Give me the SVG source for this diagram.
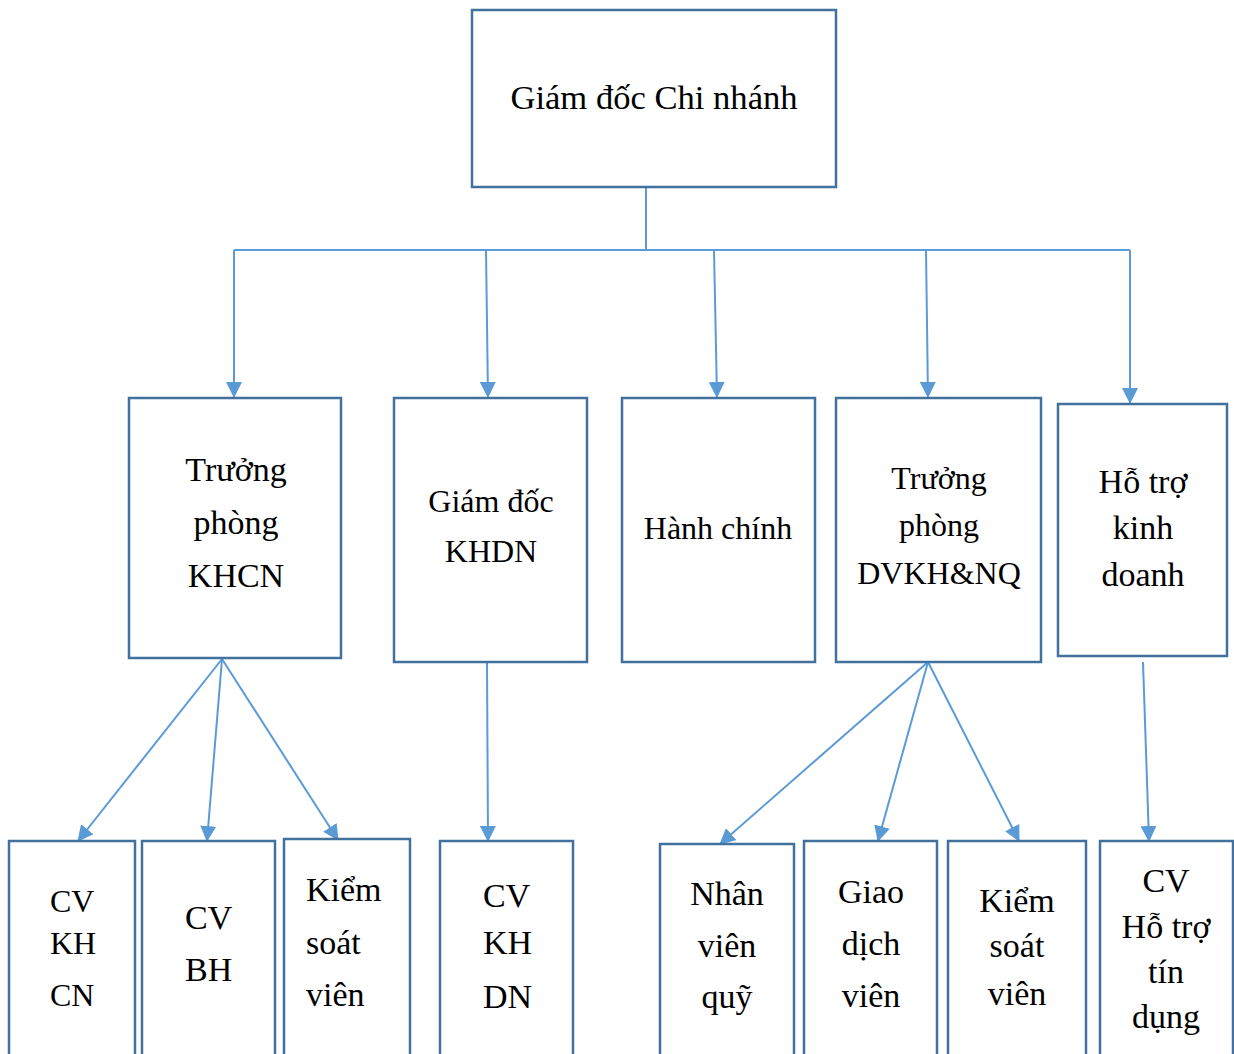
<svg xmlns="http://www.w3.org/2000/svg" width="1234" height="1054" viewBox="0 0 1234 1054">
<defs>
<marker id="arr" markerUnits="userSpaceOnUse" markerWidth="16" markerHeight="16" viewBox="0 0 16 16" refX="15" refY="8" orient="auto">
<path d="M0,0 L16,8 L0,16 Z" fill="#5B9BD5"/>
</marker>
<style>
.box{fill:#fff;stroke:#41719C;stroke-width:2.5}
.c{fill:none;stroke:#5B9BD5;stroke-width:2}
.a{marker-end:url(#arr)}
.t text{font-family:'Liberation Serif','Times New Roman',serif;font-size:34px;fill:#000}
.t text.s{font-size:32px}
.m{text-anchor:middle}
</style>
</defs>
<rect width="1234" height="1054" fill="#fff"/>
<g id="connectors">
<path class="c" d="M646,187 V250 M234,250 H1130"/>
<line class="c a" x1="234" y1="250" x2="234" y2="397"/>
<line class="c a" x1="486" y1="250" x2="488" y2="397"/>
<line class="c a" x1="714" y1="250" x2="717" y2="397"/>
<line class="c a" x1="926" y1="250" x2="928" y2="397"/>
<line class="c a" x1="1130" y1="250" x2="1130" y2="403"/>
<line class="c a" x1="222" y1="659" x2="78" y2="841"/>
<line class="c a" x1="222" y1="659" x2="207" y2="841"/>
<line class="c a" x1="222" y1="659" x2="338" y2="840"/>
<line class="c a" x1="487" y1="662" x2="488" y2="841"/>
<line class="c a" x1="928" y1="662" x2="720" y2="844"/>
<line class="c a" x1="928" y1="662" x2="878" y2="841"/>
<line class="c a" x1="928" y1="662" x2="1019" y2="841"/>
<line class="c a" x1="1143" y1="662" x2="1149" y2="841"/>
</g>
<g class="t" font-family="Liberation Serif, serif">
<g id="n-gd">
<rect class="box" x="472" y="10" width="364" height="177"/>
<text class="m" x="654" y="109" style="font-size:34.6px">Giám đốc Chi nhánh</text>
</g>
<g id="n-khcn">
<rect class="box" x="129" y="398" width="212" height="260"/>
<text class="m" x="236" y="481">Trưởng</text>
<text class="m" x="236" y="534">phòng</text>
<text class="m" x="236" y="587">KHCN</text>
</g>
<g id="n-khdn">
<rect class="box" x="394" y="398" width="193" height="264"/>
<text class="m s" x="491" y="512">Giám đốc</text>
<text class="m s" x="491" y="562">KHDN</text>
</g>
<g id="n-hc">
<rect class="box" x="622" y="398" width="193" height="264"/>
<text class="m s" x="718" y="539">Hành chính</text>
</g>
<g id="n-dvkh">
<rect class="box" x="836" y="398" width="205" height="264"/>
<text class="m s" x="939" y="489">Trưởng</text>
<text class="m s" x="939" y="536">phòng</text>
<text class="m s" x="939" y="584">DVKH&amp;NQ</text>
</g>
<g id="n-htkd">
<rect class="box" x="1058" y="404" width="169" height="252"/>
<text class="m" x="1143" y="493">Hỗ trợ</text>
<text class="m" x="1143" y="539">kinh</text>
<text class="m" x="1143" y="586">doanh</text>
</g>
<g id="n-cvkhcn">
<rect class="box" x="9" y="841" width="126" height="230"/>
<text class="s" x="50" y="912">CV</text>
<text class="s" x="50" y="954">KH</text>
<text class="s" x="50" y="1006">CN</text>
</g>
<g id="n-cvbh">
<rect class="box" x="142" y="841" width="133" height="230"/>
<text x="185" y="929">CV</text>
<text x="185" y="981">BH</text>
</g>
<g id="n-ksv1">
<rect class="box" x="284" y="839" width="126" height="232"/>
<text x="306" y="901">Kiểm</text>
<text x="306" y="954">soát</text>
<text x="306" y="1006">viên</text>
</g>
<g id="n-cvkhdn">
<rect class="box" x="440" y="841" width="133" height="230"/>
<text x="483" y="907">CV</text>
<text x="483" y="954">KH</text>
<text x="483" y="1008">DN</text>
</g>
<g id="n-nvq">
<rect class="box" x="660" y="844" width="134" height="227"/>
<text class="m" x="727" y="905">Nhân</text>
<text class="m" x="727" y="957">viên</text>
<text class="m" x="727" y="1008">quỹ</text>
</g>
<g id="n-gdv">
<rect class="box" x="804" y="841" width="133" height="230"/>
<text class="m" x="871" y="903">Giao</text>
<text class="m" x="871" y="955">dịch</text>
<text class="m" x="871" y="1007">viên</text>
</g>
<g id="n-ksv2">
<rect class="box" x="948" y="841" width="138" height="230"/>
<text class="m" x="1017" y="912">Kiểm</text>
<text class="m" x="1017" y="957">soát</text>
<text class="m" x="1017" y="1005">viên</text>
</g>
<g id="n-cvht">
<rect class="box" x="1100" y="841" width="133" height="230"/>
<text class="m" x="1166" y="892">CV</text>
<text class="m" x="1166" y="938">Hỗ trợ</text>
<text class="m" x="1166" y="983">tín</text>
<text class="m" x="1166" y="1028">dụng</text>
</g>
</g>
</svg>
